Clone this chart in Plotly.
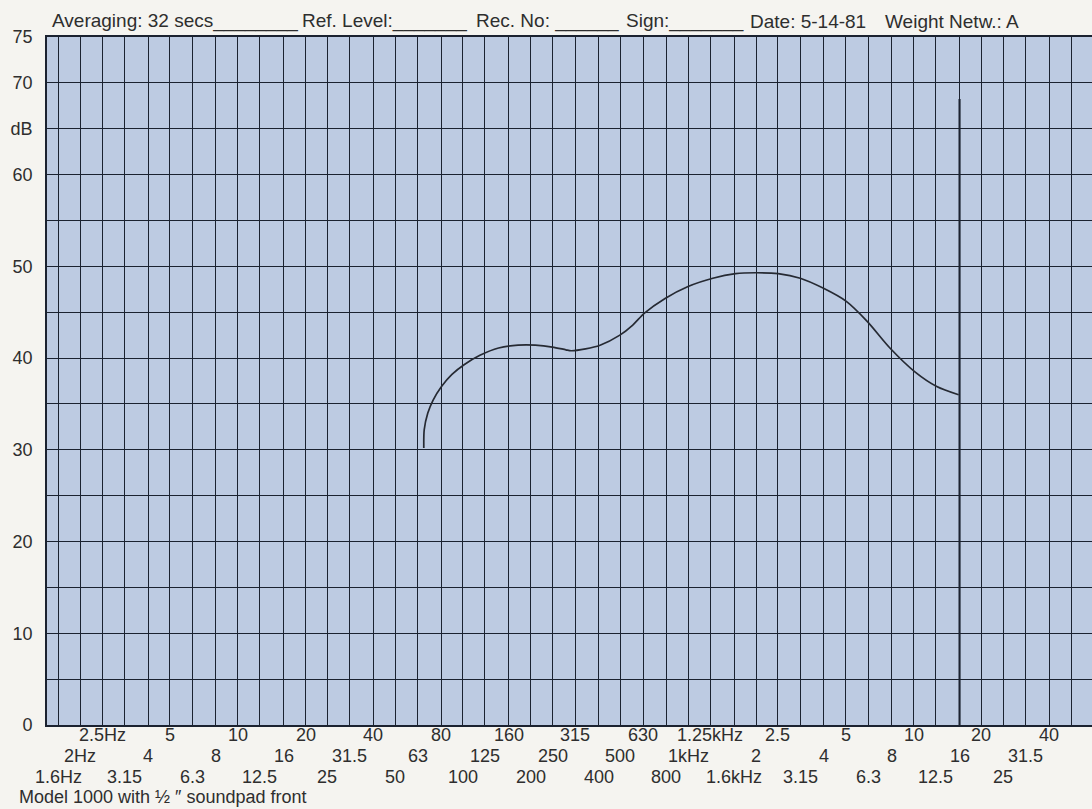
import numpy as np
import plotly.graph_objects as go

# --- 1/3-octave band centres printed on the chart paper (Hz) ---
BANDS_HZ = [
    1.6, 2, 2.5, 3.15, 4, 5, 6.3, 8, 10, 12.5, 16, 20, 25, 31.5, 40, 50,
    63, 80, 100, 125, 160, 200, 250, 315, 400, 500, 630, 800, 1000, 1250,
    1600, 2000, 2500, 3150, 4000, 5000, 6300, 8000, 10000, 12500, 16000,
    20000, 25000, 31500, 40000, 50000,
]

# frequency labels, three staggered rows under the grid
ROW1_LABELS = ["2.5Hz", "5", "10", "20", "40", "80", "160", "315", "630",
               "1.25kHz", "2.5", "5", "10", "20", "40"]
ROW2_LABELS = ["2Hz", "4", "8", "16", "31.5", "63", "125", "250", "500",
               "1kHz", "2", "4", "8", "16", "31.5"]
ROW3_LABELS = ["1.6Hz", "3.15", "6.3", "12.5", "25", "50", "100", "200", "400",
               "800", "1.6kHz", "3.15", "6.3", "12.5", "25"]

# y-axis labels
DB_TICKS = [0, 10, 20, 30, 40, 50, 60, 65, 70, 75]
DB_TEXT = ["0", "10", "20", "30", "40", "50", "60", "dB", "70", "75"]

FREQ_HZ = [67.0, 67.3, 69.8, 73.6, 80.3, 89.1, 101.5, 118.9, 143.9, 175.6,
           209.4, 249.3, 286.4, 302, 350, 406, 497, 567, 639, 789, 998,
           1285, 1622, 1982, 2506, 3141, 3984, 5012, 6223, 7852, 10139,
           12677, 15849]
LEVEL_DB = [30.2, 32.2, 34.0, 35.4, 36.9, 38.2, 39.3, 40.3, 41.1, 41.4,
            41.4, 41.2, 40.9, 40.8, 41.0, 41.4, 42.5, 43.6, 44.9, 46.5, 47.8,
            48.7, 49.2, 49.3, 49.2, 48.7, 47.6, 46.2, 44.0, 41.1, 38.5,
            36.9, 36.0]

PAPER = "#f5f4f0"
CHART_BLUE = "#bdcbe2"
GRID = "#1b2230"
INK = "#2e2e2e"
FONT = "Liberation Sans"

fig = go.Figure()
fig.add_trace(
    go.Scatter(
        x=FREQ_HZ, y=LEVEL_DB, mode="lines",
        line=dict(color="#262a33", width=1.7, shape="spline", smoothing=0.8),
        hoverinfo="skip",
    )
)

# slightly heavier line where the pen stopped (16 kHz band)
fig.add_shape(
    type="line", xref="x", yref="paper",
    x0=BANDS_HZ[40], x1=BANDS_HZ[40], y0=0, y1=0.91,
    line=dict(color=GRID, width=2.1), layer="above",
)

annotations = []
for i, lab in enumerate(ROW1_LABELS):
    annotations.append(dict(x=np.log10(BANDS_HZ[2 + 3 * i]), y=0, yshift=-10, text=lab))
for i, lab in enumerate(ROW2_LABELS):
    annotations.append(dict(x=np.log10(BANDS_HZ[1 + 3 * i]), y=0, yshift=-31, text=lab))
for i, lab in enumerate(ROW3_LABELS):
    annotations.append(dict(x=np.log10(BANDS_HZ[3 * i]), y=0, yshift=-52, text=lab))
for a in annotations:
    a.update(xref="x", yref="paper", showarrow=False, xanchor="center",
             yanchor="middle", font=dict(family=FONT, size=18, color=INK))

# header fields (label text followed by a blank to fill in)
header = [
    (50, "Averaging: 32 secs________"),
    (300, "Ref. Level:_______"),
    (474, "Rec. No: ______"),
    (624, "Sign:_______"),
    (748, "Date: 5-14-81"),
    (883, "Weight Netw.: A"),
]
for px, txt in header:
    annotations.append(dict(
        x=(px - 47) / 1045, y=1, xref="paper", yref="paper", yshift=16,
        xanchor="left", yanchor="middle", showarrow=False, text=txt,
        font=dict(family=FONT, size=19, color=INK),
    ))
annotations.append(dict(
    x=(17 - 47) / 1045, y=0, xref="paper", yref="paper", yshift=-72,
    xanchor="left", yanchor="middle", showarrow=False,
    text="Model 1000 with \u00bd \u2033 soundpad front",
    font=dict(family=FONT, size=18, color=INK),
))

fig.update_layout(
    width=1092, height=809,
    paper_bgcolor=PAPER, plot_bgcolor=CHART_BLUE,
    margin=dict(l=47, r=0, t=37, b=84),
    showlegend=False,
    annotations=annotations,
    font=dict(family=FONT, size=18, color=INK),
)
fig.update_xaxes(
    type="log", range=[0.1536, 4.792],
    tickvals=BANDS_HZ, showticklabels=False, ticks="",
    showgrid=True, gridcolor=GRID, gridwidth=1.4,
    showline=True, linecolor=GRID, linewidth=1.6, mirror=True,
    zeroline=False,
)
fig.update_yaxes(
    range=[0, 75], tickvals=DB_TICKS, ticktext=DB_TEXT, ticks="",
    ticklabelstandoff=9,
    showgrid=True, gridcolor=GRID, gridwidth=1.4,
    minor=dict(dtick=5, tick0=0, showgrid=True, gridcolor=GRID, gridwidth=1.4),
    showline=True, linecolor=GRID, linewidth=1.6,
    zeroline=False, tickfont=dict(family=FONT, size=18, color=INK),
)

fig.write_html(
    "out.html",
    config={"displayModeBar": False},
    post_script="document.body.style.margin='0';",
)
